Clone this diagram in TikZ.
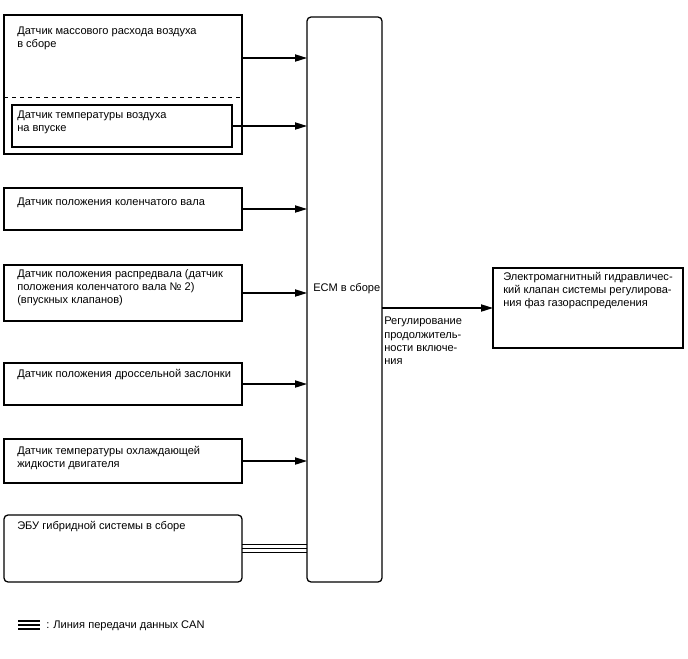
\documentclass[tikz,border=0pt]{standalone}
\usepackage{fontspec}
\setmainfont{Liberation Sans}
\usetikzlibrary{arrows.meta,positioning,calc}
\tikzset{
  box/.style={draw, line width=0.95pt, anchor=north west, inner sep=0pt, outer sep=0pt},
  rbox/.style={box, rounded corners=3pt},
  wh/.style 2 args={minimum width=#1*0.75pt, minimum height=#2*0.75pt},
  txt/.style={anchor=north west, align=left, inner sep=0pt, font=\fontsize{8.3}{9.8}\selectfont},
  sig/.style={-{Triangle[length=9pt, width=5.4pt]}, line width=0.95pt},
  can/.style={line width=1pt},
  key/.style={line width=1.2pt},
}
\newcommand{\canlines}[3]{%
  \foreach \dy in {-#3,0,#3}{\draw[can] ([yshift=\dy*0.75pt]#1) -- ([yshift=\dy*0.75pt]#2);}}

\begin{document}
\begin{tikzpicture}[x=0.75pt, y=-0.75pt]
  \useasboundingbox (0,0) rectangle (688,658);
  % sensor boxes
  \node[box, wh={238}{139}] (maf) at (4,15) {};
  \node[box, wh={220}{42}] (iat) at (12,105) {};
  \node[box, wh={238}{42}] (crank) at (4,188) {};
  \node[box, wh={238}{56}] (cam) at (4,265) {};
  \node[box, wh={238}{42}] (tps) at (4,363) {};
  \node[box, wh={238}{44}] (ect) at (4,439) {};
  \node[rbox, wh={238}{67}] (hv) at (4,515) {};
  \node[rbox, wh={75}{565}] (ecm) at (307,17) {};
  \node[box, wh={190}{80}] (ocv) at (493,268) {};
  \draw[dashed, line width=0.7pt] (maf.west |- 0,97) -- (maf.east |- 0,97);
  % texts
  \node[txt] (maft) at (17,27) {Датчик массового расхода воздуха\\в сборе};
  \node[txt] (iatt) at (17,111) {Датчик температуры воздуха\\на впуске};
  \node[txt] (crankt) at (17,198) {Датчик положения коленчатого вала};
  \node[txt] (camt) at (17,269) {Датчик положения распредвала (датчик\\положения коленчатого вала № 2)\\(впускных клапанов)};
  \node[txt] (tpst) at (17,369) {Датчик положения дроссельной заслонки};
  \node[txt] (ectt) at (17,446) {Датчик температуры охлаждающей\\жидкости двигателя};
  \node[txt] (hvt) at (17,521) {ЭБУ гибридной системы в сборе};
  \node[txt] (ecmt) at (313,283) {ECM в сборе};
  \node[txt] (ocvt) at (503,272) {Электромагнитный гидравличес-\\кий клапан системы регулирова-\\ния фаз газораспределения};
  \node[txt, font=\fontsize{8.3}{10}\selectfont] (dutyt) at (384,317) {Регулирование\\продолжитель-\\ности включе-\\ния};
  % signals
  \coordinate (mafsig) at (0,58);
  \draw[sig] (maf.east |- mafsig) -- (mafsig -| ecm.west);
  \draw[sig] (iat.east) -- (iat.east -| ecm.west);
  \draw[sig] (crank.east) -- (crank.east -| ecm.west);
  \draw[sig] (cam.east) -- (cam.east -| ecm.west);
  \draw[sig] (tps.east) -- (tps.east -| ecm.west);
  \draw[sig] (ect.east) -- (ect.east -| ecm.west);
  \draw[sig] (ecm.east |- ocv.west) -- (ocv.west);
  \canlines{hv.east}{hv.east -| ecm.west}{4}
  % legend
  \coordinate (keyl) at (18,625);
  \coordinate (keyr) at (40,625);
  \foreach \dy in {-4,0,4}{\draw[key] ([yshift=\dy*0.75pt]keyl) -- ([yshift=\dy*0.75pt]keyr);}
  \node[txt] (keyt) at (46,620) {: Линия передачи данных CAN};
\end{tikzpicture}
\end{document}
